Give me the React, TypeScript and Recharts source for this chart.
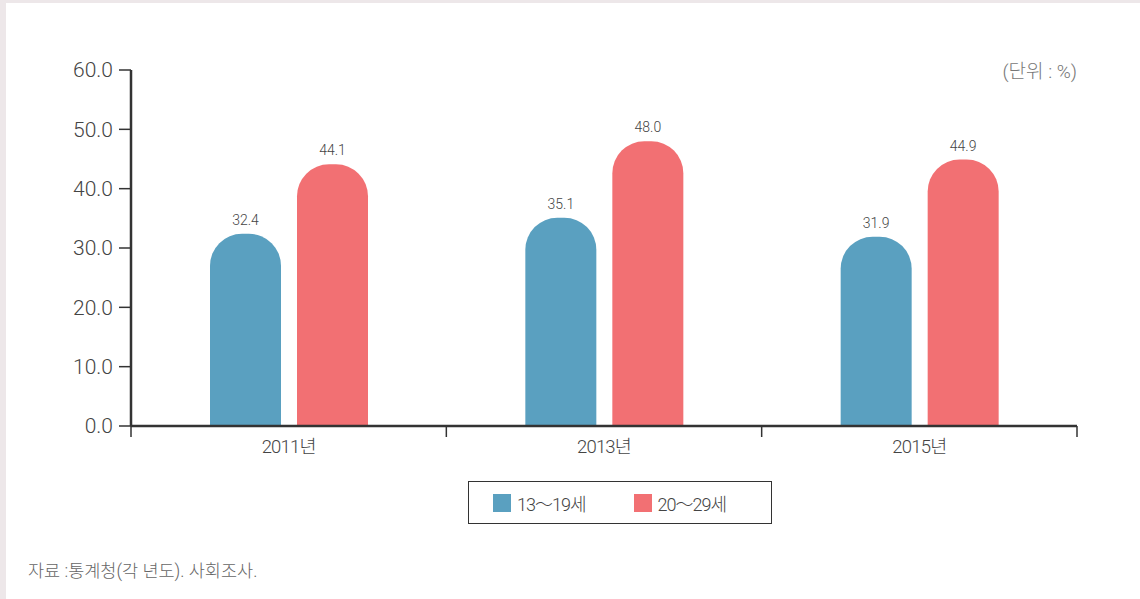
import React from "react";
import { BarChart, Bar, XAxis, YAxis, LabelList } from "recharts";

const years = ["2011년", "2013년", "2015년"];
const teens = [32.4, 35.1, 31.9];
const twenties = [44.1, 48.0, 44.9];
const yTicks = [0, 10, 20, 30, 40, 50, 60];
const seriesNames = ["13～19세", "20～29세"];
const colors = ["#5aa0c0", "#f27073"];

const data = years.map((y, i) => ({ year: y, teens: teens[i], twenties: twenties[i] }));

const FONT = "Roboto, 'Noto Sans CJK KR', sans-serif";

const XTick = (props: any) => {
  const { x, y, payload, index, visibleTicksCount } = props;
  const off = payload && typeof payload.offset === "number" ? payload.offset : 0;
  const top = y - 11;
  return (
    <g>
      {off > 0 && <line x1={x - off} x2={x - off} y1={top} y2={top + 11} stroke="#333" strokeWidth={1.5} />}
      {off > 0 && index === visibleTicksCount - 1 && (
        <line x1={x + off} x2={x + off} y1={top} y2={top + 11} stroke="#333" strokeWidth={1.5} />
      )}
      <text x={x} y={y} dy={16} textAnchor="middle" fill="#444" fontSize={18.5} fontWeight={300} fontFamily={FONT} letterSpacing={-0.8}>
        {payload.value}
      </text>
    </g>
  );
};

const LegendBox = () => (
  <div
    style={{
      position: "absolute",
      left: 468,
      top: 481,
      width: 304,
      height: 43,
      border: "1.5px solid #333",
      boxSizing: "border-box",
      display: "flex",
      alignItems: "center",
      fontFamily: FONT,
      fontSize: 18,
      fontWeight: 300,
      color: "#444",
      letterSpacing: -1,
      background: "#fff",
    }}
  >
    {seriesNames.map((n, i) => (
      <div key={n} style={{ display: "flex", alignItems: "center", marginLeft: i === 0 ? 24 : 48 }}>
        <div style={{ width: 18, height: 18, background: colors[i], marginRight: 6 }} />
        <span>{n}</span>
      </div>
    ))}
  </div>
);

export default function App() {
  return (
    <div style={{ position: "absolute", left: 0, top: 0, width: 1140, height: 599, background: "#ede7e9", overflow: "hidden" }}>
      <div style={{ position: "absolute", left: 6, top: 3, width: 1134, height: 596, background: "#ffffff" }} />
      <div style={{ position: "absolute", left: 0, top: 0 }}>
        <BarChart
          width={1140}
          height={599}
          data={data}
          margin={{ top: 70, right: 63, bottom: 143, left: 71 }}
          barGap={16}
          barCategoryGap="25%"
        >
          <XAxis
            dataKey="year"
            axisLine={{ stroke: "#333", strokeWidth: 2.5 }}
            tickLine={false}
            tickSize={6}
            tickMargin={5}
            height={30}
            interval={0}
            tick={<XTick />}
          />
          <YAxis
            width={60}
            domain={[0, 60]}
            ticks={yTicks}
            tickFormatter={(v: number) => v.toFixed(1)}
            axisLine={{ stroke: "#333", strokeWidth: 2.5 }}
            tickLine={{ stroke: "#333", strokeWidth: 1.5 }}
            tickSize={12}
            tickMargin={6}
            tick={{ fill: "#444", fontSize: 21, fontFamily: FONT, fontWeight: 300 }}
          />
          <Bar dataKey="teens" name={seriesNames[0]} fill={colors[0]} barSize={71} radius={[32, 32, 0, 0]} isAnimationActive={false}>
            <LabelList dataKey="teens" position="top" offset={9} formatter={(v: number) => v.toFixed(1)} style={{ fill: "#444", fontSize: 14, fontWeight: 300, fontFamily: FONT }} />
          </Bar>
          <Bar dataKey="twenties" name={seriesNames[1]} fill={colors[1]} barSize={71} radius={[32, 32, 0, 0]} isAnimationActive={false}>
            <LabelList dataKey="twenties" position="top" offset={9} formatter={(v: number) => v.toFixed(1)} style={{ fill: "#444", fontSize: 14, fontWeight: 300, fontFamily: FONT }} />
          </Bar>
        </BarChart>
      </div>
      <LegendBox />
      <div style={{ position: "absolute", right: 63, top: 56, fontFamily: FONT, fontSize: 19, color: "#777", fontWeight: 300 }}>
        (단위 : %)
      </div>
      <div style={{ position: "absolute", left: 28, top: 557, fontFamily: FONT, fontSize: 17.5, color: "#666", fontWeight: 300 }}>
        자료 :통계청(각 년도). 사회조사.
      </div>
    </div>
  );
}
